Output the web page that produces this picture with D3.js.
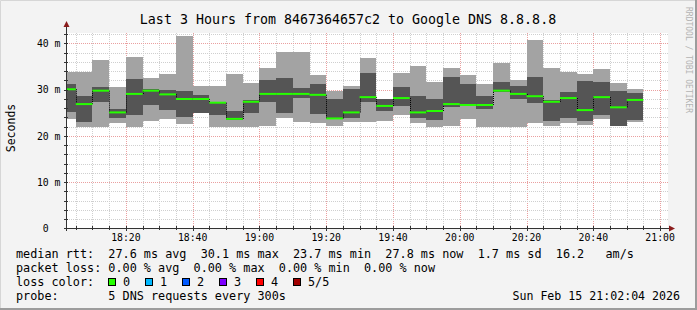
<!DOCTYPE html>
<html lang="en">
<head>
<meta charset="UTF-8">
<title>Last 3 Hours from 8467364657c2 to Google DNS 8.8.8.8</title>
<style>
    body { margin: 0; background: #fff; }
    text { font-family: "DejaVu Sans Mono", monospace; fill: #000; white-space: pre; }
</style>
</head>
<body>
<svg id="chart" width="697" height="310"></svg>
<script src="https://d3js.org/d3.v7.min.js"></script>
<script>
// 5 minute steps, 18:00 .. 20:55 (UTC)
const stepStart = d3.range(35).map(i => Date.UTC(2026, 1, 15, 18, 5 * i));
const medianRtt = [30.1, 26.9, 29.8, 25.1, 29.1, 29.8, 29.0, 28.0, 28.0, 27.2, 23.7, 27.4, 29.1, 29.1, 29.1, 28.9, 23.8, 25.1, 28.4, 26.5, 28.2, 25.1, 25.4, 26.9, 26.7, 26.7, 29.8, 29.1, 28.6, 27.4, 28.2, 25.6, 28.4, 26.2, 27.8];
const minRtt = [23.6, 22.0, 22.0, 22.8, 22.0, 23.2, 23.6, 22.6, 24.9, 22.0, 22.0, 22.0, 22.2, 23.8, 23.1, 22.8, 22.1, 23.0, 23.1, 23.3, 24.6, 22.8, 22.0, 22.2, 23.7, 22.0, 22.0, 22.0, 22.8, 22.1, 22.8, 22.3, 23.6, 22.1, 23.0];
const lowRtt = [25.2, 23.0, 27.4, 23.9, 24.5, 26.7, 25.6, 24.1, 25.0, 24.6, 23.4, 25.0, 27.4, 24.9, 28.2, 24.7, 23.6, 23.8, 27.4, 25.4, 26.5, 23.9, 23.4, 26.3, 26.4, 25.9, 29.5, 28.0, 27.2, 23.3, 23.8, 23.2, 24.6, 22.1, 23.4];
const highRtt = [31.2, 28.6, 30.5, 25.9, 32.4, 30.2, 29.9, 29.7, 28.8, 27.4, 25.4, 27.7, 32.1, 32.5, 30.3, 31.2, 28.1, 30.1, 33.6, 27.9, 30.5, 28.6, 28.0, 32.7, 31.3, 28.7, 31.6, 30.8, 32.7, 27.8, 29.5, 31.8, 31.6, 29.7, 29.3];
const maxRtt = [33.8, 33.8, 36.4, 30.5, 37.1, 32.5, 33.4, 41.6, 30.8, 30.8, 33.4, 31.5, 34.7, 38.1, 38.1, 33.1, 29.7, 30.8, 36.8, 27.9, 33.6, 35.1, 31.6, 34.7, 33.1, 31.2, 35.7, 32.1, 40.7, 34.7, 33.8, 33.4, 34.4, 31.5, 30.1];

const yTicks = [0, 10, 20, 30, 40];
const legendRows = [
    "median rtt:  27.6 ms avg  30.1 ms max  23.7 ms min  27.8 ms now  1.7 ms sd  16.2   am/s",
    "packet loss: 0.00 % avg  0.00 % max  0.00 % min  0.00 % now",
    "loss color:",
    "probe:       5 DNS requests every 300s"
];
const lossLabels = ["0", "1", "2", "3", "4", "5/5"];
const lossColors = ["#26ff00", "#00b8ff", "#0059ff", "#7e00ff", "#ff0000", "#a10000"];

const W = 697, H = 310;
const svg = d3.select("#chart");

// canvas + 3d-ish frame
svg.append("rect").attr("width", W).attr("height", H).attr("fill", "#f3f3f3");
svg.append("path").attr("d", `M0.5,${H} V0.5 H${W}`).attr("stroke", "#d6d6d6").attr("fill", "none");
svg.append("path").attr("d", `M0,${H - 1} H${W - 1} V0`).attr("stroke", "#9c9c9c").attr("stroke-width", 2).attr("fill", "none");

const t0 = Date.UTC(2026, 1, 15, 18, 2, 4), t1 = Date.UTC(2026, 1, 15, 21, 2, 4);
const x = d3.scaleUtc().domain([t0, t1]).range([66, 667]);
const y = d3.scaleLinear().domain([0, 42.16]).range([228.5, 33.5]);
const px = v => Math.round(v) + 0.5;

// plot area
svg.append("rect").attr("x", 67).attr("y", 33).attr("width", 601).attr("height", 195).attr("fill", "#fff");

const grid = svg.append("g");
const minutes = d3.utcMinute.every(5).range(new Date(t0), new Date(t1));
const majors = minutes.filter(d => d.getUTCMinutes() % 20 === 0);
minutes.forEach(d => {
    const major = d.getUTCMinutes() % 20 === 0;
    grid.append("line")
        .attr("x1", px(x(d))).attr("x2", px(x(d)))
        .attr("y1", 33).attr("y2", 228)
        .attr("stroke", major ? "#eaa0a0" : "#cfcfcf")
        .attr("stroke-dasharray", "1,1");
});
d3.range(2, 43, 2).forEach(v => {
    const major = v % 10 === 0;
    grid.append("line")
        .attr("x1", 67).attr("x2", 668)
        .attr("y1", px(y(v))).attr("y2", px(y(v)))
        .attr("stroke", major ? "#eaa0a0" : "#cfcfcf")
        .attr("stroke-dasharray", "1,1");
});

// smoke
const bars = stepStart.map((s, i) => ({
    x0: x(Math.max(s, t0)), x1: x(s + 300000),
    med: medianRtt[i], min: minRtt[i], lo: lowRtt[i], hi: highRtt[i], max: maxRtt[i]
}));
const smoke = svg.append("g");
smoke.selectAll("rect.light").data(bars).join("rect")
    .attr("x", d => d.x0).attr("width", d => d.x1 - d.x0)
    .attr("y", d => y(d.max)).attr("height", d => y(d.min) - y(d.max))
    .attr("fill", "#a3a3a3").attr("shape-rendering", "crispEdges");
smoke.selectAll("rect.dark").data(bars).join("rect")
    .attr("x", d => d.x0).attr("width", d => d.x1 - d.x0)
    .attr("y", d => y(d.hi)).attr("height", d => y(d.lo) - y(d.hi))
    .attr("fill", "#555555").attr("shape-rendering", "crispEdges");

// median step connectors
svg.append("g").selectAll("line").data(bars.slice(0, -1)).join("line")
    .attr("x1", d => px(d.x1)).attr("x2", d => px(d.x1))
    .attr("y1", d => y(d.med))
    .attr("y2", (d, i) => y(bars[i + 1].med))
    .attr("stroke", "#000").attr("stroke-dasharray", "1,1");
// median lines
svg.append("g").selectAll("line").data(bars).join("line")
    .attr("x1", d => d.x0).attr("x2", d => d.x1)
    .attr("y1", d => y(d.med)).attr("y2", d => y(d.med))
    .attr("stroke", lossColors[0]).attr("stroke-width", 2);

// axes
const axis = svg.append("g");
axis.append("line").attr("x1", 66.5).attr("x2", 66.5).attr("y1", 231).attr("y2", 26).attr("stroke", "#333");
axis.append("line").attr("x1", 64).attr("x2", 670).attr("y1", 228.5).attr("y2", 228.5).attr("stroke", "#333");
axis.append("path").attr("d", "M63.5,27 L69.5,27 L66.5,21 Z").attr("fill", "#8b1c1c");
axis.append("path").attr("d", "M669,225.5 L669,231.5 L675,228.5 Z").attr("fill", "#8b1c1c");
minutes.forEach(d => {
    const major = d.getUTCMinutes() % 20 === 0;
    axis.append("line").attr("x1", px(x(d))).attr("x2", px(x(d)))
        .attr("y1", 226).attr("y2", major ? 231 : 230).attr("stroke", "#333");
});
d3.range(2, 43, 2).forEach(v => {
    axis.append("line").attr("x1", 64).attr("x2", 68)
        .attr("y1", px(y(v))).attr("y2", px(y(v))).attr("stroke", "#333");
});

// tick labels
svg.append("g").selectAll("text").data(yTicks).join("text")
    .attr("x", 60.5).attr("y", d => y(d) + 3.6)
    .attr("text-anchor", "end").attr("font-size", "9.8px")
    .text(d => d === 0 ? "0  " : d + " m");
svg.append("g").selectAll("text").data(majors).join("text")
    .attr("x", d => x(d)).attr("y", 241)
    .attr("text-anchor", "middle").attr("font-size", "9.8px")
    .text(d3.utcFormat("%H:%M"));

// titles
svg.append("text").attr("x", 348).attr("y", 24).attr("text-anchor", "middle")
    .attr("font-size", "13.3px").text("Last 3 Hours from 8467364657c2 to Google DNS 8.8.8.8");
svg.append("text").attr("transform", "translate(15,128) rotate(-90)").attr("text-anchor", "middle")
    .attr("font-size", "11.5px").text("Seconds");
svg.append("text").attr("transform", "translate(685.5,7) rotate(90)")
    .attr("font-size", "8px").style("fill", "#b4b4b4").text("RRDTOOL / TOBI OETIKER");

// legend
const rowY = [257.5, 271.5, 285.5, 299.5];
svg.append("g").selectAll("text").data(legendRows).join("text")
    .attr("x", 16).attr("y", (d, i) => rowY[i])
    .attr("font-size", "11.8px").text(d => d);
const swatch = svg.append("g").selectAll("g").data(lossLabels).join("g")
    .attr("transform", (d, i) => `translate(${108 + i * 37},278)`);
swatch.append("rect").attr("x", 0.5).attr("y", 0.5).attr("width", 7).attr("height", 7)
    .attr("fill", (d, i) => lossColors[i]).attr("stroke", "#000");
swatch.append("text").attr("x", 15).attr("y", 7.5).attr("font-size", "11.8px").text(d => d);
svg.append("text").attr("x", 680).attr("y", 299.5).attr("text-anchor", "end")
    .attr("font-size", "11.6px").text("Sun Feb 15 21:02:04 2026");
</script>
</body>
</html>
